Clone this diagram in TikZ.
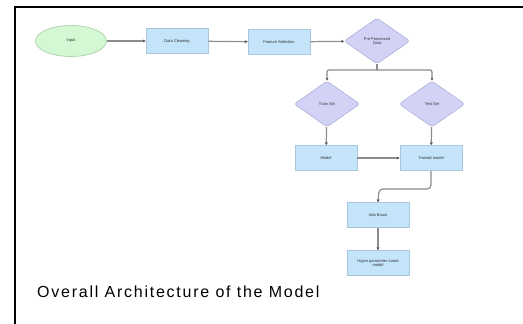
\documentclass[tikz,border=0pt]{standalone}
\usepackage{fontspec}
\setmainfont{Liberation Sans}
\newfontfamily\captionfont[LetterSpace=11]{Liberation Sans}
\usetikzlibrary{shapes.geometric,arrows.meta}
\definecolor{boxfill}{HTML}{C4E4FA}
\definecolor{boxline}{HTML}{A8C8DE}
\definecolor{startfill}{HTML}{D4F7D4}
\definecolor{startline}{HTML}{B4D4B4}
\definecolor{decfill}{HTML}{D2D2F7}
\definecolor{decline}{HTML}{B0B0D8}
\definecolor{wire}{HTML}{8C8C8C}
\tikzset{
  every node/.style={font=\fontsize{4}{4.6}\selectfont, align=center, text=black!80, inner sep=1pt},
  procbox/.style={rectangle, draw=boxline, fill=boxfill, line width=0.6pt, minimum width=62pt, minimum height=25pt},
  startnode/.style={ellipse, draw=startline, fill=startfill, line width=0.8pt, minimum width=71pt, minimum height=31pt},
  decision/.style={diamond, draw=decline, fill=decfill, line width=0.6pt, rounded corners=3pt, minimum width=66pt, minimum height=46pt},
  flow/.style={draw=wire, line width=1.2pt, -{Stealth[length=3pt,width=3pt,black!70]}},
}
\begin{document}
\begin{tikzpicture}[x=1pt, y=-1pt]
\useasboundingbox (0,0) rectangle (523,324);
% frame: left and top rules only
\draw[line width=1.6pt] (15,324) -- (15,7) -- (523,7);

\node[startnode] (input) at (71,41) {Input};
\node[procbox] (clean) at (177,41) {Data Cleaning};
\node[procbox] (feat) at (279,42) {Feature Selection};
\node[decision] (pre) at (377,41) {Pre Processed\\Data};
\node[decision] (train) at (327,104) {Train Set};
\node[decision] (test) at (432,104) {Test Set};
\node[procbox] (model) at (326,158) {Model};
\node[procbox] (trained) at (431,158) {Trained model};
\node[procbox] (ada) at (378,215) {Ada Boost};
\node[procbox] (hyper) at (378,263) {Hyper parameter tuned\\model};

\coordinate (split) at (377,70);

\draw[flow] (input) -- (clean);
\draw[flow] (clean) -- (feat);
\draw[flow] (feat) -- (pre);
\draw[draw=wire, line width=1.2pt] (pre.south) -- (split);
\draw[flow, rounded corners=2pt] (split) -| (train.north);
\draw[flow, rounded corners=2pt] (split) -| (test.north);
\draw[flow] (train) -- (model);
\draw[flow] (test) -- (trained);
\draw[flow] (model) -- (trained);
\draw[flow, rounded corners=4pt] (trained.south) |- (379,189) -- (ada.north);
\draw[flow] (ada) -- (hyper);

\node[anchor=base west, font=\captionfont\fontsize{16}{19}\selectfont, text=black, inner sep=0pt] (caption) at (37,297) {Overall Architecture of the Model};
\end{tikzpicture}
\end{document}
